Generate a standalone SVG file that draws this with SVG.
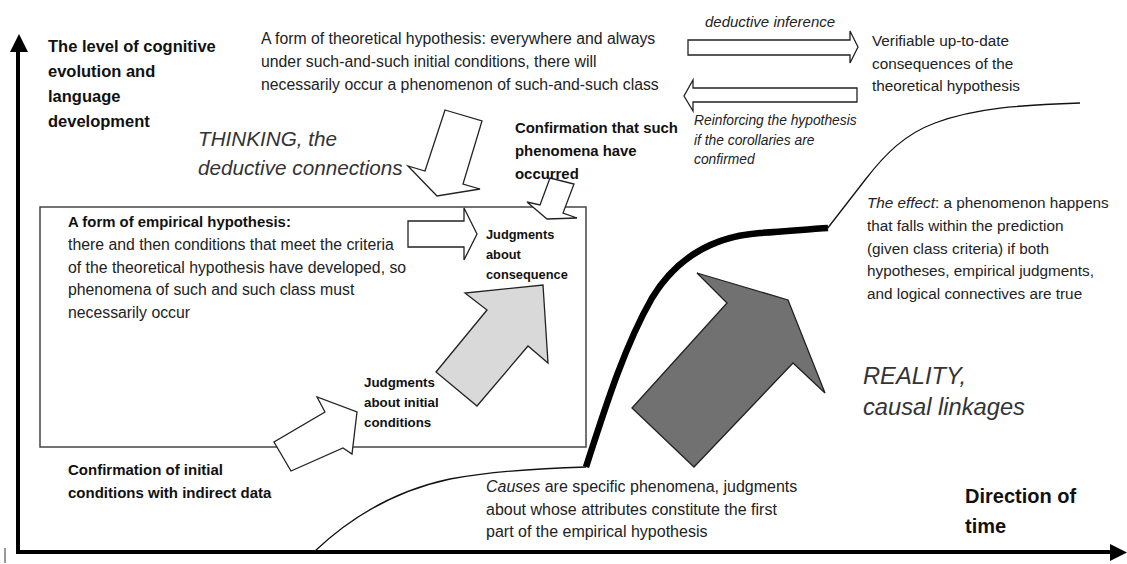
<svg xmlns="http://www.w3.org/2000/svg" width="1127" height="564" viewBox="0 0 1127 564">
<style>
text{font-family:"Liberation Sans",Arial,sans-serif;fill:#222}
.reg{font-size:15.8px}
.regr{font-size:15.3px}
.b{font-weight:bold;fill:#111}
.it{font-style:italic}
.big{font-size:20.7px;font-style:italic;fill:#333}
.blk{fill:#fff;stroke:#222;stroke-width:1.3;stroke-linejoin:miter}
.light{fill:#d9d9d9;stroke:#222;stroke-width:1.3}
.dark{fill:#717171;stroke:#222;stroke-width:1.3}
.thin{fill:none;stroke:#111;stroke-width:1.3}
.thick{fill:none;stroke:#000;stroke-width:6.5;stroke-linecap:butt}
.axis{stroke:#000;stroke-width:4;fill:none}
</style>
<defs>
<marker id="ah" viewBox="0 0 10 10" refX="9" refY="5" markerWidth="4.2" markerHeight="4.2" orient="auto" markerUnits="strokeWidth">
<path d="M0,0 L10,5 L0,10 z" fill="#000"/>
</marker>
</defs>
<rect width="1127" height="564" fill="#fff"/>

<g id="axes">
<path class="axis" d="M18,553 L18,50"/>
<path d="M10,52 L19,34 L28,52 z" fill="#000"/>
<path class="axis" d="M16,552 L1112,552"/>
<path d="M1110,544 L1127,552.5 L1110,561 z" fill="#000"/>
<path d="M5,548 L5,563" stroke="#333" stroke-width="1"/>
</g>

<g id="empirical-box">
<rect x="40" y="207" width="546" height="240" fill="none" stroke="#444" stroke-width="1.5"/>
</g>

<g id="connectors">
<!-- deductive inference arrow -->
<polygon class="blk" points="688,40 850,40 850,31 858,47 850,63 850,55 688,55"/>
<!-- reinforcing arrow -->
<polygon class="blk" points="857,88 693,88 693,80 684,96 693,111 693,102 857,102"/>
<!-- thinking down arrow -->
<polygon class="blk" points="445,110 482,121 463,184 480,189 437,196 408,166 425,171"/>
<!-- confirmation small down arrow -->
<polygon class="blk" points="550,178 574,184 563,213 577,218 547,219 527,202 540,205"/>
<!-- arrow to judgments about consequence -->
<polygon class="blk" points="408,221 464,221 464,208 477,234 464,260 464,247 408,247"/>
<!-- light grey arrow -->
<polygon class="light" points="543,285 548,363 528,346 477,406 436,372 487,310 465,293"/>
<!-- initial conditions arrow -->
<polygon class="blk" points="357,412 352,454 343,448 291,471 274,442 325,412 317,397"/>
<!-- dark grey reality arrow -->
<polygon class="dark" points="788,300 825,393 793,363 694,467 632,408 727,303 697,273"/>
<!-- curve -->
<path class="thin" d="M315,551 C352,516 398,490 450,479 C500,470 548,468 586,467"/>
<path class="thick" d="M586,467 C606,405 625,345 652,298 C680,252 720,236 760,233 C790,231 810,229 828,228"/>
<path class="thin" d="M827,229 L865,180 C885,154 905,134 935,123 C975,108 1020,105 1080,103"/>
</g>

<g id="y-axis-label">
<text class="b" font-size="16.5" x="48" y="51.5">The level of cognitive</text>
<text class="b" font-size="16.5" x="48" y="77">evolution and</text>
<text class="b" font-size="16.5" x="48" y="102">language</text>
<text class="b" font-size="16.5" x="48" y="127">development</text>
</g>

<g id="theoretical-hypothesis">
<text class="reg" x="261" y="43.5">A form of theoretical hypothesis: everywhere and always</text>
<text class="reg" x="261" y="67">under such-and-such initial conditions, there will</text>
<text class="reg" x="261" y="90">necessarily occur a phenomenon of such-and-such class</text>
</g>

<g id="deductive-inference">
<text class="it" font-size="15" x="705" y="26.5">deductive inference</text>
</g>

<g id="verifiable-consequences">
<text class="regr" x="872" y="46">Verifiable up-to-date</text>
<text class="regr" x="872" y="68.5">consequences of the</text>
<text class="regr" x="872" y="90.5">theoretical hypothesis</text>
</g>

<g id="reinforcing">
<text class="it" font-size="13.8" x="694" y="125">Reinforcing the hypothesis</text>
<text class="it" font-size="13.8" x="694" y="144.5">if the corollaries are</text>
<text class="it" font-size="13.8" x="694" y="164">confirmed</text>
</g>

<g id="thinking">
<text class="big" x="198" y="146">THINKING, the</text>
<text class="big" x="198" y="175">deductive connections</text>
</g>

<g id="confirmation-occurred">
<text class="b" font-size="14.9" x="515" y="133">Confirmation that such</text>
<text class="b" font-size="14.9" x="515" y="156">phenomena have</text>
<text class="b" font-size="14.9" x="515" y="178.5">occurred</text>
</g>

<g id="empirical-hypothesis">
<text class="b" font-size="14.9" x="68" y="227">A form of empirical hypothesis:</text>
<text class="reg" x="68" y="249.5">there and then conditions that meet the criteria</text>
<text class="reg" x="68" y="272.5">of the theoretical hypothesis have developed, so</text>
<text class="reg" x="68" y="295">phenomena of such and such class must</text>
<text class="reg" x="68" y="318">necessarily occur</text>
</g>

<g id="judgments-consequence">
<text class="b" font-size="12.8" x="486" y="239">Judgments</text>
<text class="b" font-size="12.8" x="486" y="258.5">about</text>
<text class="b" font-size="12.8" x="486" y="279">consequence</text>
</g>

<g id="judgments-initial">
<text class="b" font-size="13.3" x="364" y="387">Judgments</text>
<text class="b" font-size="13.3" x="364" y="407">about initial</text>
<text class="b" font-size="13.3" x="364" y="427">conditions</text>
</g>

<g id="confirmation-initial">
<text class="b" font-size="15" x="68" y="474.5">Confirmation of initial</text>
<text class="b" font-size="15" x="68" y="497.5">conditions with indirect data</text>
</g>

<g id="causes">
<text font-size="16" x="486" y="492"><tspan class="it">Causes</tspan> are specific phenomena, judgments</text>
<text font-size="16" x="486" y="514.5">about whose attributes constitute the first</text>
<text font-size="16" x="486" y="537">part of the empirical hypothesis</text>
</g>

<g id="effect">
<text class="regr" font-size="15.5" x="867" y="208"><tspan class="it">The effect</tspan>: a phenomenon happens</text>
<text class="regr" x="867" y="231">that falls within the prediction</text>
<text class="regr" x="867" y="253.5">(given class criteria) if both</text>
<text class="regr" x="867" y="276">hypotheses, empirical judgments,</text>
<text class="regr" x="867" y="298.5">and logical connectives are true</text>
</g>

<g id="reality">
<text class="big" font-size="23.7" x="863" y="384" style="font-size:23.7px">REALITY,</text>
<text class="big" x="863" y="415" style="font-size:23.7px">causal linkages</text>
</g>

<g id="direction-of-time">
<text class="b" font-size="20" x="965" y="502.5">Direction of</text>
<text class="b" font-size="20" x="965" y="533">time</text>
</g>
</svg>
